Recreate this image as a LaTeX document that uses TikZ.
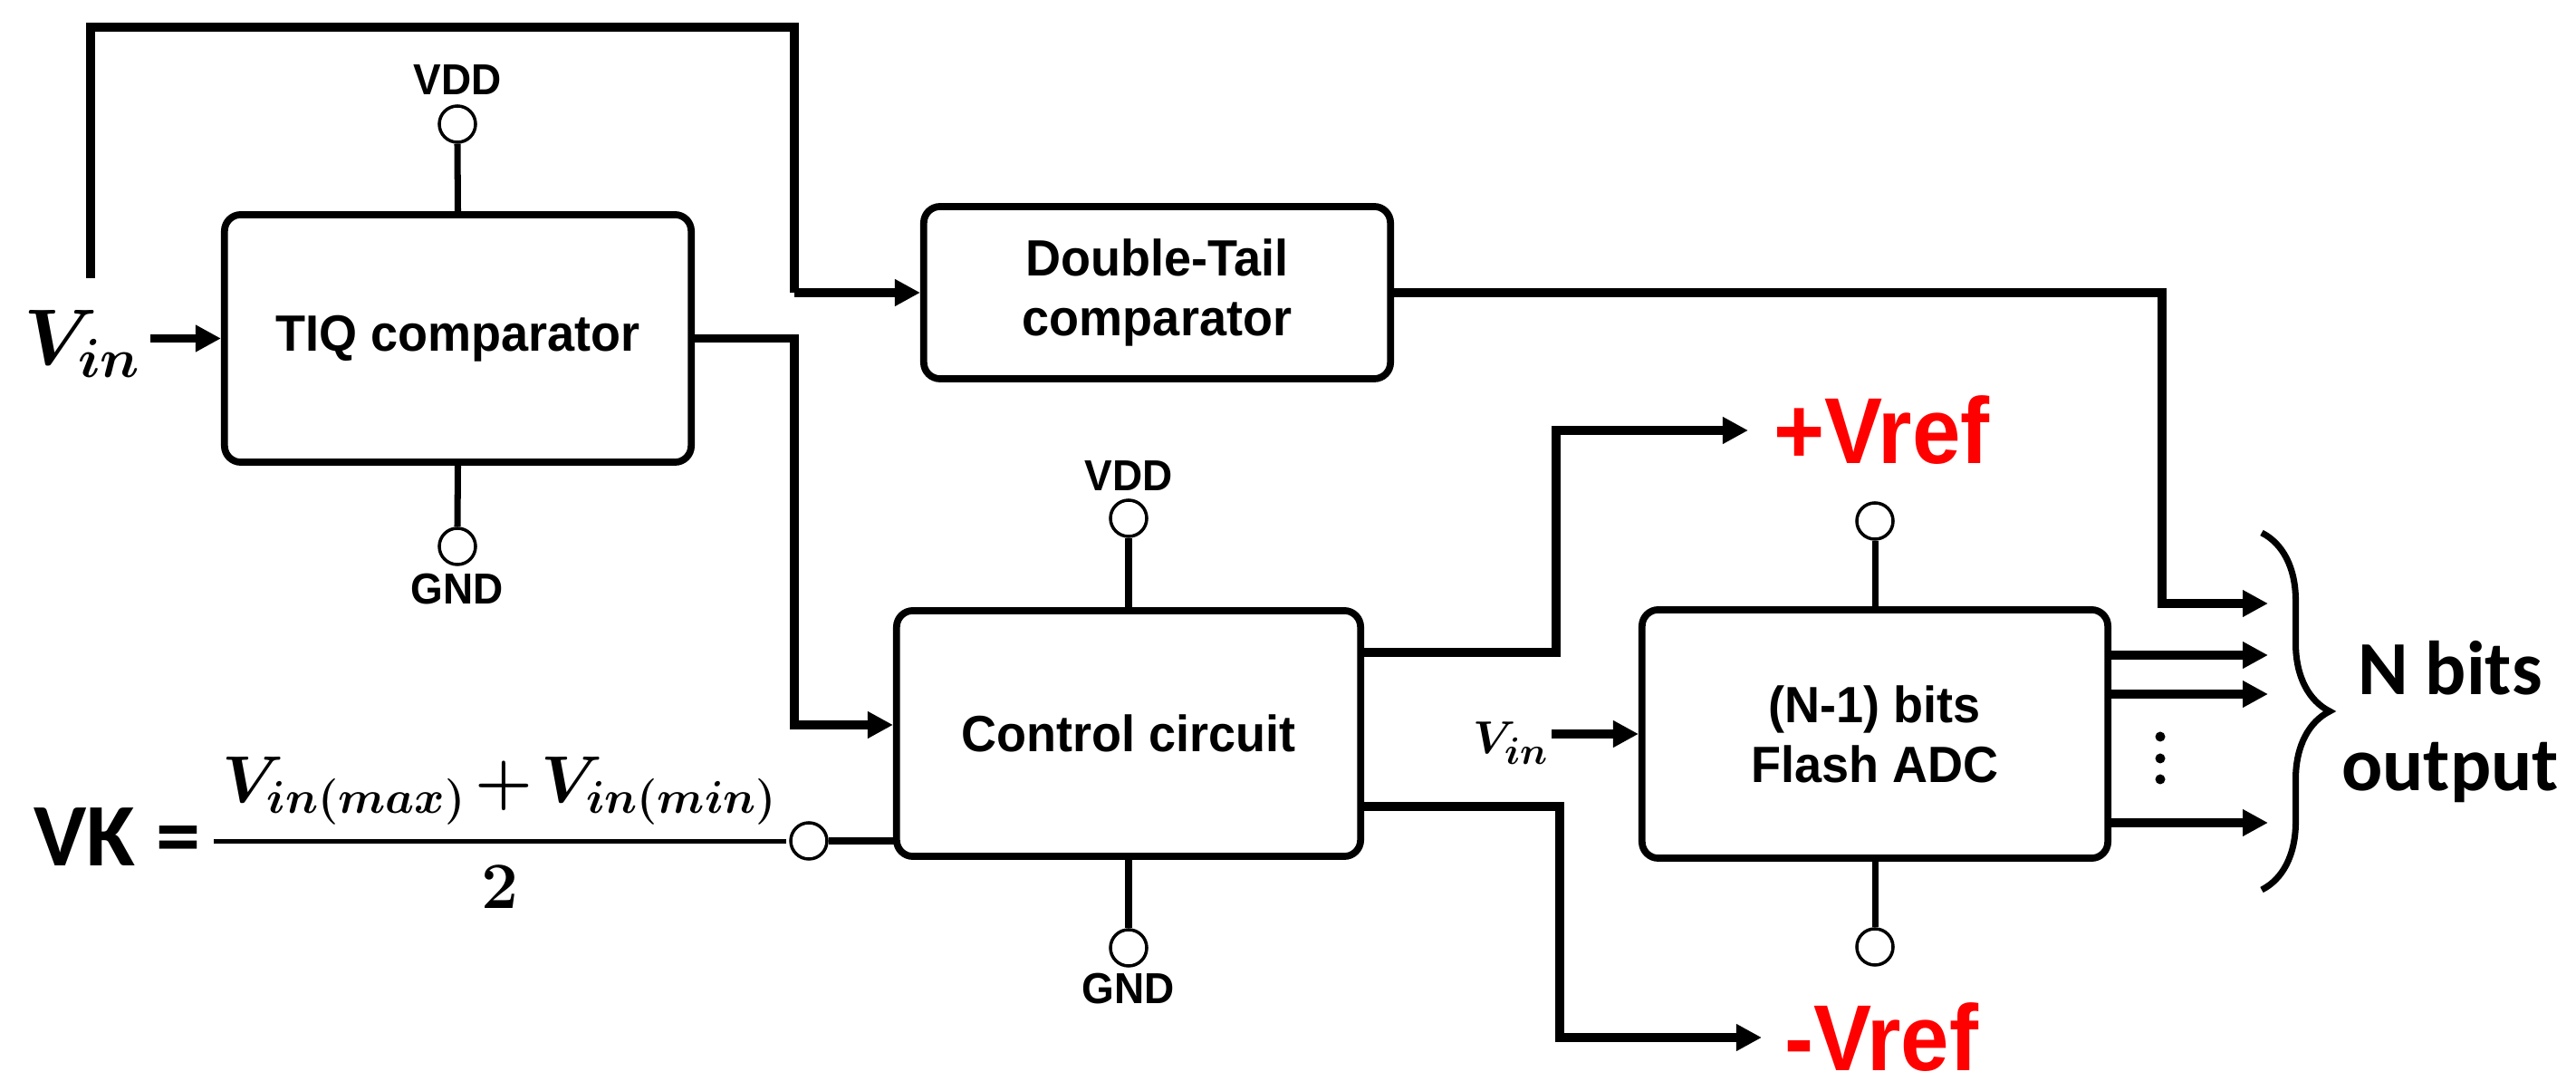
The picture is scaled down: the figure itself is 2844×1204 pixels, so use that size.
\documentclass[tikz,border=0pt]{standalone}
\usepackage{fontspec}
\usepackage{amsmath}
\usetikzlibrary{arrows.meta,decorations.pathreplacing}
\newfontfamily\lsans{Liberation Sans}[FakeStretch=0.96]
\newfontfamily\lsansn{Liberation Sans}[FakeStretch=0.93]
\newfontfamily\calib{Carlito}
\definecolor{vred}{RGB}{255,0,0}
\DeclareMathSizes{19.5}{19.5}{15.3}{11}
\DeclareMathSizes{23}{23}{17.5}{13}
\DeclareMathSizes{15.4}{15.4}{11.5}{9}
\begin{document}
\begin{tikzpicture}[x=0.01cm,y=-0.01cm,
  box/.style={draw, line width=2.2pt, rounded corners=0.18cm, inner sep=0pt,
    font=\lsans\bfseries\fontsize{16}{18.8}\selectfont, align=center},
  wire/.style={line width=2.7pt},
  arr/.style={wire, -{Triangle[length=0.28cm,width=0.28cm]}},
  stub/.style={line width=2pt},
  term/.style={circle, draw, line width=1pt, minimum size=0.40cm, inner sep=0pt},
  pw/.style={font=\lsans\bfseries\fontsize{13.6}{16}\selectfont, inner sep=0pt},
  vrl/.style={font=\lsansn\bfseries\fontsize{29.4}{32}\selectfont, text=vred, inner sep=0pt, anchor=west},
  big/.style={font=\calib\bfseries\fontsize{24}{30}\selectfont, inner sep=0pt, anchor=base},
  dot/.style={circle, fill, inner sep=0pt, minimum size=0.11cm}
]
\useasboundingbox (0,0) rectangle (2844,1204);

% boxes
\node[box, minimum width=5.15cm, minimum height=2.73cm] (tiq) at (505.5,373.5) {TIQ comparator};
\node[box, minimum width=5.15cm, minimum height=1.90cm] (dt) at (1277.5,323) {Double-Tail\\comparator};
\node[box, minimum width=5.12cm, minimum height=2.71cm] (ctrl) at (1246,809.5) {Control circuit};
\node[box, minimum width=5.14cm, minimum height=2.74cm] (fl) at (2070,810) {(N-1) bits\\Flash ADC};

% supply terminals
\node[term] (tv) at (505,137) {};
\node[pw] (tvl) at (505,88) {VDD};
\node[term] (tg) at (505,603) {};
\node[pw] (tgl) at (505,650) {GND};
\node[term] (cv) at (1246,572) {};
\node[pw] (cvl) at (1246,525) {VDD};
\node[term] (cg) at (1246,1046) {};
\node[pw] (cgl) at (1246,1091) {GND};
\node[term] (fv) at (2070,575) {};
\node[term] (fg) at (2070,1045) {};
\draw[stub] (tiq.north) -- (tv.south);
\draw[stub] (tiq.south) -- (tg.north);
\draw[stub] (ctrl.north) -- (cv.south);
\draw[stub] (ctrl.south) -- (cg.north);
\draw[stub] (fl.north) -- (fv.south);
\draw[stub] (fl.south) -- (fg.north);

% input Vin
\node[anchor=base west, inner sep=0pt, font=\boldmath\fontsize{23}{28}\selectfont] (vin) at (26,403) {$V_{in}$};
\coordinate (a0) at (166,373.5);
\draw[arr] (a0) -- (tiq.west);

% top loop to double-tail
\coordinate (t0) at (100,307);
\coordinate (t1) at (100,30);
\coordinate (t2) at (877,30);
\draw[wire] (t0) -- (t1) -- (t2) -- (877,323);
\draw[arr] (877,323) -- (dt.west);

% TIQ output to control
\coordinate (c1) at (877,800);
\draw[arr] (tiq.east) -| (c1) -- (c1 -| ctrl.west);

% double tail output
\coordinate (d1) at (2387,666);
\coordinate (o1) at (2504,666);
\draw[arr] (dt.east) -| (d1) -- (o1);

% VK formula
\node[anchor=base west, inner sep=0pt, font=\calib\bfseries\fontsize{28}{30}\selectfont] (vk) at (37,956) {VK =};
\node[anchor=base, inner sep=0pt, font=\boldmath\fontsize{19.5}{24}\selectfont] (frac) at (552,947)
  {$\genfrac{}{}{1.5pt}{0}{\mkern2mu V_{in(max)}{\mkern2mu+\mkern2mu}V_{in(min)}\mkern2mu}{2}$};
\node[term] (vkt) at (893,928) {};
\coordinate (k1) at (990,928);
\draw[stub] (vkt.east) -- (k1);

% control outputs
\coordinate (p1) at (1718,720);
\coordinate (pv) at (1930,475);
\draw[arr] (p1 -| ctrl.east) -- (p1) |- (pv);
\node[vrl] (vp) at (1958,475) {+Vref};
\coordinate (m1) at (1722,890);
\coordinate (mv) at (1945,1145);
\draw[arr] (m1 -| ctrl.east) -- (m1) |- (mv);
\node[vrl] (vm) at (1970,1145) {-Vref};

% flash input
\node[anchor=base west, inner sep=0pt, font=\boldmath\fontsize{15.4}{18}\selectfont] (vin2) at (1626,832) {$V_{in}$};
\coordinate (f0) at (1713,810);
\draw[arr] (f0) -- (f0 -| fl.west);

% flash outputs
\coordinate (o2) at (2504,723);
\coordinate (o3) at (2504,766);
\coordinate (o4) at (2504,908);
\draw[arr] (o2 -| fl.east) -- (o2);
\draw[arr] (o3 -| fl.east) -- (o3);
\draw[arr] (o4 -| fl.east) -- (o4);
\node[dot] (e1) at (2385,813) {};
\node[dot] (e2) at (2385,837) {};
\node[dot] (e3) at (2385,860) {};

% brace and label
\coordinate (b0) at (2497,588);
\coordinate (b1) at (2497,982);
\draw[line width=2pt, decorate, decoration={brace, amplitude=0.75cm}] (b0) -- (b1);
\node[big] (nb) at (2705,767) {N bits};
\node[big] (nout) at (2705,873) {output};
\end{tikzpicture}
\end{document}
